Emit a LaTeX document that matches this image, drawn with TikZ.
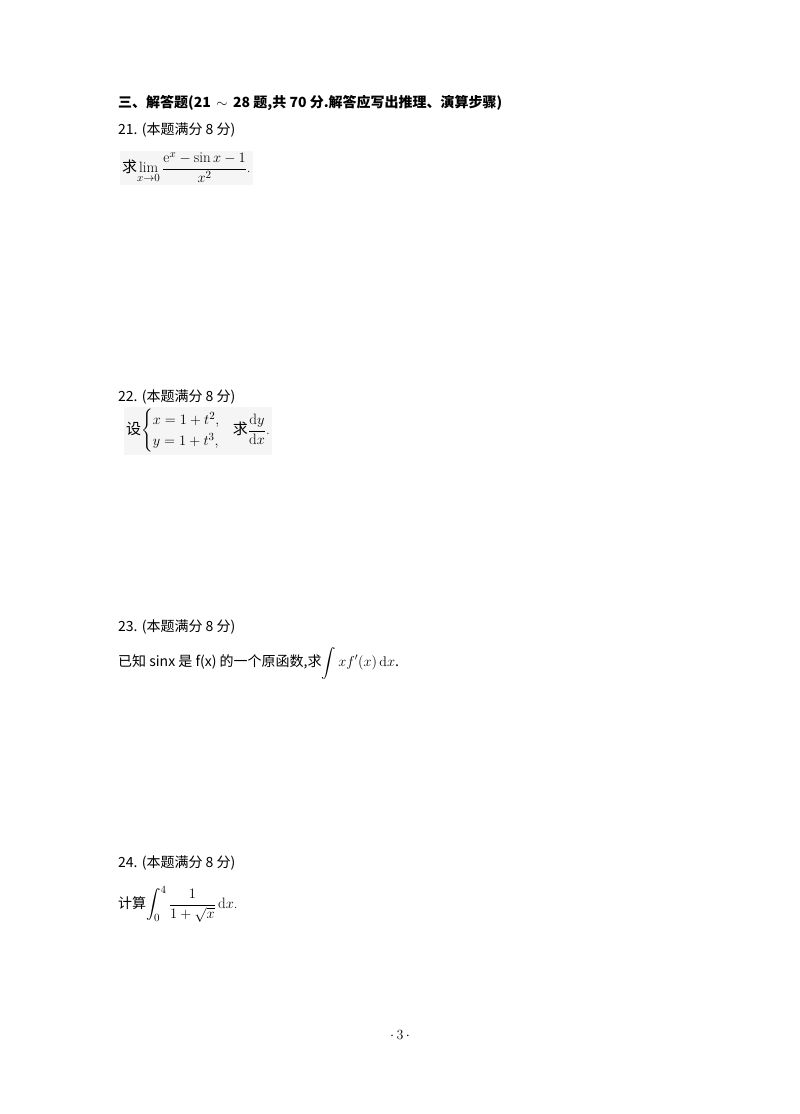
\documentclass[tikz,border=0pt]{standalone}
\usepackage{amsmath}
\usepackage{fontspec}
\newfontfamily\cjk{Noto Sans CJK SC}
\begin{document}
\begin{tikzpicture}[x=1pt,y=-1pt,
  txt/.style={anchor=west,inner sep=0pt,font=\fontsize{14}{16}\selectfont\cjk},
  fml/.style={anchor=west,inner sep=2pt,fill=black!4,font=\fontsize{15}{17}\selectfont}]
\useasboundingbox (0,0) rectangle (800,1114);
\node[txt,font=\fontsize{14}{16}\selectfont\cjk\bfseries] (h) at (118,103) {三、解答题(21 \,$\sim$\, 28 题,共 70 分.解答应写出推理、演算步骤)};
\node[txt] (q21) at (118,130) {21. (本题满分 8 分)};
\node[fml] (f21) at (120,168) {{\cjk 求}$\displaystyle\lim_{x\to0}\frac{\mathrm{e}^x-\sin x-1}{x^2}$.};
\node[txt] (q22) at (118,397) {22. (本题满分 8 分)};
\node[fml] (f22) at (124,431) {{\cjk 设}$\begin{cases}x=1+t^2,\\ y=1+t^3,\end{cases}\!${\cjk 求}$\dfrac{\mathrm{d}y}{\mathrm{d}x}$.};
\node[txt] (q23) at (118,627) {23. (本题满分 8 分)};
\node[txt] (l23) at (118,663) {已知 sinx 是 f(x) 的一个原函数,求$\displaystyle\int xf'(x)\,\mathrm{d}x$.};
\node[txt] (q24) at (118,863) {24. (本题满分 8 分)};
\node[fml,fill=none] (f24) at (116,904) {{\cjk\fontsize{14}{16}\selectfont 计算}$\displaystyle\int_0^4\frac{1}{1+\sqrt{x}}\,\mathrm{d}x$.};
\node[inner sep=0pt,font=\fontsize{14}{16}\selectfont] (pg) at (400,1035) {$\cdot$\,3\,$\cdot$};
\end{tikzpicture}
\end{document}
